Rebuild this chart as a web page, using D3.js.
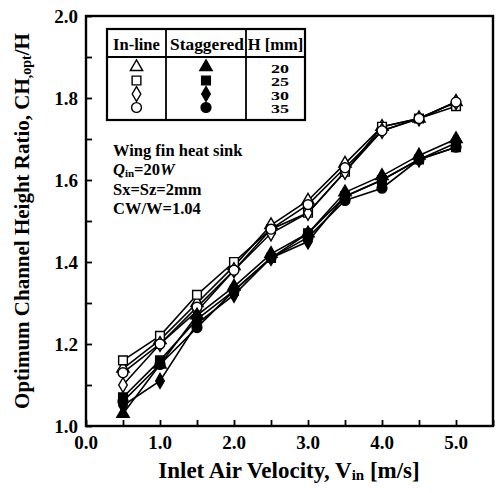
<!DOCTYPE html>
<html>
<head>
<meta charset="utf-8">
<script src="https://cdn.jsdelivr.net/npm/d3@7"></script>
<style>
  html, body { margin: 0; padding: 0; background: #fff; }
  svg text { font-family: "Liberation Serif", "DejaVu Serif", serif; font-weight: bold; fill: #000; }
</style>
</head>
<body>
<svg id="chart" width="497" height="493"></svg>
<script>
// Inlet velocity (m/s)
const velocity = [0.5, 1.0, 1.5, 2.0, 2.5, 3.0, 3.5, 4.0, 4.5, 5.0];

// Optimum channel height ratio, in-line arrangement
const inline20 = [1.14, 1.21, 1.30, 1.39, 1.49, 1.55, 1.64, 1.73, 1.75, 1.79];
const inline25 = [1.16, 1.22, 1.32, 1.40, 1.48, 1.52, 1.62, 1.73, 1.75, 1.78];
const inline30 = [1.10, 1.20, 1.28, 1.38, 1.47, 1.52, 1.62, 1.72, 1.75, 1.79];
const inline35 = [1.13, 1.20, 1.29, 1.38, 1.48, 1.54, 1.63, 1.72, 1.75, 1.79];

// Optimum channel height ratio, staggered arrangement
const stag20 = [1.03, 1.15, 1.27, 1.34, 1.42, 1.47, 1.57, 1.61, 1.66, 1.70];
const stag25 = [1.07, 1.16, 1.26, 1.33, 1.41, 1.47, 1.56, 1.60, 1.65, 1.68];
const stag30 = [1.05, 1.11, 1.25, 1.32, 1.41, 1.45, 1.56, 1.60, 1.65, 1.69];
const stag35 = [1.06, 1.15, 1.24, 1.33, 1.41, 1.46, 1.55, 1.58, 1.65, 1.68];

const heights = ["20", "25", "30", "35"];
const xTickLabels = ["0.0", "1.0", "2.0", "3.0", "4.0", "5.0"];
const yTickLabels = ["1.0", "1.2", "1.4", "1.6", "1.8", "2.0"];

const series = [
  { values: inline20, shape: d3.symbolTriangle, filled: false },
  { values: inline25, shape: d3.symbolSquare, filled: false },
  { values: inline30, shape: d3.symbolDiamond, filled: false },
  { values: inline35, shape: d3.symbolCircle, filled: false },
  { values: stag20, shape: d3.symbolTriangle, filled: true },
  { values: stag25, shape: d3.symbolSquare, filled: true },
  { values: stag30, shape: d3.symbolDiamond, filled: true },
  { values: stag35, shape: d3.symbolCircle, filled: true }
];
const shapes = [d3.symbolTriangle, d3.symbolSquare, d3.symbolDiamond, d3.symbolCircle];
function sizeOf(shape) {
  if (shape === d3.symbolTriangle) return 66;
  if (shape === d3.symbolSquare) return 76;
  if (shape === d3.symbolDiamond) return 64;
  return 76;
}

const svg = d3.select("#chart");
const margin = { left: 86, right: 4, top: 16, bottom: 67 };
const W = 497, H = 493;

const x = d3.scaleLinear().domain([0, 5.5]).range([margin.left, W - margin.right]);
const y = d3.scaleLinear().domain([1.0, 2.0]).range([H - margin.bottom, margin.top]);

// inward ticks
const xAxis = d3.axisBottom(x).tickValues(d3.range(0, 5.51, 0.5)).tickSize(-6).tickFormat("");
const yAxis = d3.axisLeft(y).tickValues(d3.range(1.0, 2.001, 0.1)).tickSize(-6).tickFormat("");

const gx = svg.append("g").attr("transform", `translate(0,${y(1.0)})`).call(xAxis);
const gy = svg.append("g").attr("transform", `translate(${x(0)},0)`).call(yAxis);
[gx, gy].forEach(g => {
  g.select(".domain").remove();
  g.selectAll(".tick line").attr("stroke", "#000").attr("stroke-width", 1.8);
});

// frame
svg.append("rect")
  .attr("x", x(0)).attr("y", y(2.0))
  .attr("width", x(5.5) - x(0)).attr("height", y(1.0) - y(2.0))
  .attr("fill", "none").attr("stroke", "#000").attr("stroke-width", 2.4);

// tick labels
svg.append("g").selectAll("text").data(xTickLabels).join("text")
  .attr("x", d => x(+d)).attr("y", y(1.0) + 23)
  .attr("text-anchor", "middle").attr("font-size", 19).text(d => d);
svg.append("g").selectAll("text").data(yTickLabels).join("text")
  .attr("x", x(0) - 8).attr("y", d => y(+d) + 7)
  .attr("text-anchor", "end").attr("font-size", 19).text(d => d);

// axis titles
const xt = svg.append("text").attr("x", 289).attr("y", 478)
  .attr("text-anchor", "middle").attr("font-size", 23);
xt.append("tspan").text("Inlet Air Velocity, V");
xt.append("tspan").attr("font-size", 15).attr("dy", 2).text("in");
xt.append("tspan").attr("dy", -2).text(" [m/s]");

const yt = svg.append("text")
  .attr("transform", `translate(29,${(y(1.0) + y(2.0)) / 2}) rotate(-90)`)
  .attr("text-anchor", "middle").attr("font-size", 21);
yt.append("tspan").text("Optimum Channel Height Ratio, CH");
yt.append("tspan").attr("font-size", 14).attr("dy", 2).text(",opt");
yt.append("tspan").attr("dy", -2).text("/H");

// lines
const line = d3.line().x((d, i) => x(velocity[i])).y(d => y(d));
svg.append("g").selectAll("path").data(series).join("path")
  .attr("d", s => line(s.values))
  .attr("fill", "none").attr("stroke", "#000").attr("stroke-width", 1.6);

// markers
series.forEach(s => {
  svg.append("g").selectAll("path").data(s.values).join("path")
    .attr("transform", (d, i) => `translate(${x(velocity[i])},${y(d)})`)
    .attr("d", d3.symbol().type(s.shape).size(sizeOf(s.shape)))
    .attr("fill", s.filled ? "#000" : "#fff")
    .attr("stroke", "#000").attr("stroke-width", 1.4);
});

// legend table
const lg = svg.append("g");
const lx0 = 107, lx1 = 305, ly0 = 29, ly1 = 120, lyh = 57, c1 = 166, c2 = 246;
lg.append("rect").attr("x", lx0).attr("y", ly0).attr("width", lx1 - lx0).attr("height", ly1 - ly0)
  .attr("fill", "#fff").attr("stroke", "#000").attr("stroke-width", 2.2);
lg.append("line").attr("x1", lx0).attr("x2", lx1).attr("y1", lyh).attr("y2", lyh)
  .attr("stroke", "#000").attr("stroke-width", 1.8);
[c1, c2].forEach(cx => lg.append("line").attr("x1", cx).attr("x2", cx).attr("y1", ly0).attr("y2", ly1)
  .attr("stroke", "#000").attr("stroke-width", 1.8));
lg.append("text").attr("x", (lx0 + c1) / 2).attr("y", 50).attr("text-anchor", "middle")
  .attr("font-size", 16.5).text("In-line");
lg.append("text").attr("x", (c1 + c2) / 2 + 1).attr("y", 50).attr("text-anchor", "middle")
  .attr("font-size", 16.5).attr("textLength", 74).attr("lengthAdjust", "spacingAndGlyphs").text("Staggered");
lg.append("text").attr("x", (c2 + lx1) / 2).attr("y", 50).attr("text-anchor", "middle")
  .attr("font-size", 16.5).text("H [mm]");
const rowY = [67, 80.5, 94, 107.5];
shapes.forEach((shape, i) => {
  lg.append("path").attr("transform", `translate(${(lx0 + c1) / 2},${rowY[i]})`)
    .attr("d", d3.symbol().type(shape).size(sizeOf(shape)))
    .attr("fill", "#fff").attr("stroke", "#000").attr("stroke-width", 1.4);
  lg.append("path").attr("transform", `translate(${(c1 + c2) / 2},${rowY[i]})`)
    .attr("d", d3.symbol().type(shape).size(sizeOf(shape)))
    .attr("fill", "#000").attr("stroke", "#000").attr("stroke-width", 1.4);
  lg.append("text").attr("x", 280).attr("y", rowY[i] + 5.5).attr("text-anchor", "middle")
    .attr("font-size", 13.5).attr("textLength", 18).attr("lengthAdjust", "spacingAndGlyphs")
    .text(heights[i]);
});

// conditions note
const note = svg.append("g").attr("font-size", 16.5);
note.append("text").attr("x", 113).attr("y", 156).text("Wing fin heat sink");
const q = note.append("text").attr("x", 113).attr("y", 175);
q.append("tspan").attr("font-style", "italic").text("Q");
q.append("tspan").attr("font-size", 11).attr("dy", 2).text("in");
q.append("tspan").attr("dy", -2).text("=20");
q.append("tspan").attr("font-style", "italic").text("W");
note.append("text").attr("x", 113).attr("y", 195).text("Sx=Sz=2mm");
note.append("text").attr("x", 113).attr("y", 214).text("CW/W=1.04");
</script>
</body>
</html>
